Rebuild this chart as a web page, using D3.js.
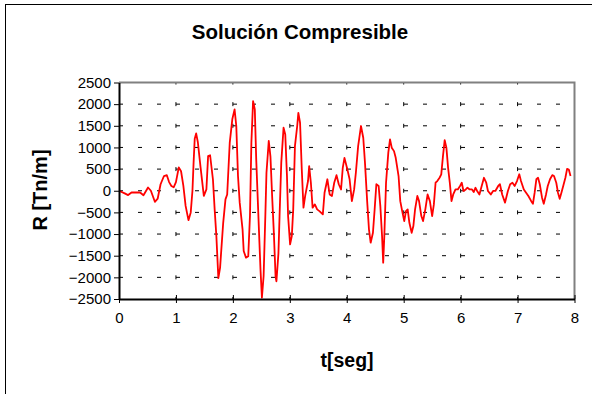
<!DOCTYPE html>
<html>
<head>
<meta charset="utf-8">
<script src="https://cdn.jsdelivr.net/npm/d3@7"></script>
<style>
  body { margin: 0; background: #fff; }
  svg { display: block; font-family: 'Liberation Sans', Arial, sans-serif; }
</style>
</head>
<body>
<svg id="chart"></svg>
<script>
// Time samples [s]
const time = [
  0.00, 0.10, 0.16, 0.22, 0.37, 0.43, 0.51, 0.56, 0.63, 0.68, 0.73, 0.79, 0.84, 0.88, 0.92, 0.96,
  1.00, 1.05, 1.09, 1.13, 1.17, 1.22, 1.26, 1.29, 1.31, 1.33, 1.355, 1.385, 1.43, 1.49, 1.535, 1.565,
  1.60, 1.65, 1.68, 1.71, 1.745, 1.775, 1.83, 1.87, 1.90, 1.945, 1.99, 2.03, 2.06, 2.09, 2.12, 2.17,
  2.19, 2.23, 2.27, 2.30, 2.325, 2.355, 2.385, 2.41, 2.455, 2.485, 2.51, 2.54, 2.57, 2.59, 2.63, 2.66,
  2.69, 2.72, 2.75, 2.765, 2.80, 2.82, 2.85, 2.89, 2.92, 2.95, 2.97, 3.005, 3.035, 3.06, 3.09, 3.13,
  3.15, 3.18, 3.21, 3.24, 3.27, 3.32, 3.34, 3.37, 3.40, 3.44, 3.48, 3.52, 3.58, 3.61, 3.66, 3.70,
  3.74, 3.78, 3.82, 3.86, 3.90, 3.93, 3.96, 4.01, 4.05, 4.09, 4.13, 4.16, 4.20, 4.25, 4.29, 4.32,
  4.36, 4.39, 4.42, 4.46, 4.49, 4.52, 4.56, 4.59, 4.62, 4.64, 4.66, 4.69, 4.73, 4.76, 4.79, 4.83,
  4.86, 4.91, 4.94, 4.98, 5.01, 5.04, 5.07, 5.10, 5.14, 5.17, 5.20, 5.24, 5.27, 5.31, 5.34, 5.38,
  5.42, 5.46, 5.50, 5.53, 5.56, 5.59, 5.63, 5.66, 5.69, 5.72, 5.75, 5.78, 5.81, 5.84, 5.87, 5.91,
  5.95, 5.99, 6.02, 6.05, 6.09, 6.12, 6.16, 6.20, 6.23, 6.26, 6.29, 6.33, 6.37, 6.41, 6.45, 6.48,
  6.53, 6.57, 6.61, 6.66, 6.69, 6.73, 6.78, 6.83, 6.87, 6.91, 6.95, 6.99, 7.03, 7.06, 7.11, 7.15,
  7.19, 7.24, 7.27, 7.30, 7.33, 7.36, 7.39, 7.43, 7.46, 7.50, 7.53, 7.57, 7.61, 7.64, 7.68, 7.71,
  7.74, 7.77, 7.81, 7.84, 7.87, 7.90, 7.93
]

// Force R [Tn/m] at each time sample
const force = [
  0, -60, -100, -40, -40, -105, 75, 0, -255, -180, 150, 340, 360, 200, 110, 80,
  200, 540, 450, 120, -350, -680, -500, 0, 650, 1200, 1325, 1120, 570, -120, 30, 800,
  820, 260, -430, -1045, -2020, -1780, -740, -200, -85, 1110, 1650, 1880, 1495, 340, -275, -890,
  -1390, -1545, -1510, -585, 1110, 2070, 1880, 725, -815, -1815, -2470, -1970, -585, 415, 1150, 790,
  -140, -985, -1985, -2090, -1450, -585, 650, 1455, 1300, 340, -585, -1240, -1045, -430, 1030, 1495,
  1800, 1570, 495, -390, -120, 225, 570, 185, -390, -315, -430, -470, -545, -45, 265, -85,
  -120, 185, 360, 150, 30, 530, 760, 495, 265, -240, 30, 415, 1030, 1495, 1225, 650,
  -275, -890, -1200, -970, -430, 150, 110, -355, -1045, -1660, -1045, 185, 880, 1185, 995, 915,
  760, 340, -240, -510, -700, -470, -430, -740, -970, -815, -430, -120, -240, -585, -700, -430,
  -85, -240, -585, -315, 185, 225, 300, 380, 800, 1170, 995, 530, 185, -240, -85, 30,
  30, 110, 185, -5, 30, 70, 30, 30, -30, 70, -5, -85, 110, 300, 185, -5,
  -85, -5, -5, 110, 150, -85, -275, -5, 150, 185, 110, 225, 380, 225, 30, -45,
  -120, -240, -300, -45, 265, 300, 150, -160, -300, -85, 110, 265, 360, 340, 185, -45,
  -185, -45, 150, 300, 505, 490, 340
]

const xTicks = [0, 1, 2, 3, 4, 5, 6, 7, 8]
const yTicks = [-2500, -2000, -1500, -1000, -500, 0, 500, 1000, 1500, 2000, 2500]

const chartTitle = 'Solución Compresible'
const xTitle = 't[seg]'
const yTitle = 'R [Tn/m]'

const width = 592
const height = 394
const plot = { left: 119, right: 574.5, top: 82.5, bottom: 299 }

const svg = d3.select('#chart')
  .attr('width', width)
  .attr('height', height)

// outer chart frame (right and bottom edges fall outside the picture)
svg.append('rect')
  .attr('x', 5.5)
  .attr('y', 4.5)
  .attr('width', 600)
  .attr('height', 400)
  .attr('fill', '#fff')
  .attr('stroke', '#000')

const x = d3.scaleLinear().domain([0, 8]).range([plot.left, plot.right])
const y = d3.scaleLinear().domain([-2500, 2500]).range([plot.bottom, plot.top])

// Dashed gridlines
svg.append('g')
  .selectAll('line')
  .data(yTicks.filter(v => v > -2500 && v < 2500))
  .enter()
  .append('line')
  .attr('x1', plot.left)
  .attr('x2', plot.right)
  .attr('y1', d => y(d))
  .attr('y2', d => y(d))
  .attr('stroke', '#000')
  .attr('stroke-dasharray', '4,15')

svg.append('g')
  .selectAll('line')
  .data(xTicks.filter(v => v > 0 && v < 8))
  .enter()
  .append('line')
  .attr('x1', d => x(d))
  .attr('x2', d => x(d))
  .attr('y1', plot.top)
  .attr('y2', plot.bottom)
  .attr('stroke', '#000')
  .attr('stroke-dasharray', '4,17.65')
  .attr('stroke-dashoffset', 2)

// top and right edges of the plot area
svg.append('path')
  .attr('d', `M${plot.left},${plot.top}H${plot.right}V${plot.bottom}`)
  .attr('fill', 'none')
  .attr('stroke', '#808080')
  .attr('stroke-width', 2)

// the curve
const line = d3.line()
  .x(d => x(d[0]))
  .y(d => y(d[1]))

svg.append('path')
  .datum(time.map((t, i) => [t, force[i]]))
  .attr('d', line)
  .attr('fill', 'none')
  .attr('stroke', '#ff0000')
  .attr('stroke-width', 1.8)
  .attr('stroke-linejoin', 'round')

// Axes
const yAxis = svg.append('g')
  .attr('transform', `translate(${plot.left},0)`)
  .call(d3.axisLeft(y).tickValues(yTicks).tickFormat(d3.format('d'))
    .tickSize(5).tickSizeOuter(0).tickPadding(3))

const xAxis = svg.append('g')
  .attr('transform', `translate(0,${plot.bottom})`)
  .call(d3.axisBottom(x).tickValues(xTicks).tickFormat(d3.format('d'))
    .tickSize(4).tickSizeOuter(0).tickPadding(9))

xAxis.selectAll('.tick line').attr('y1', -4)

for (const axis of [yAxis, xAxis]) {
  axis.select('.domain').attr('stroke', '#000').attr('stroke-width', 2)
  axis.selectAll('.tick line').attr('stroke', '#000')
  axis.selectAll('.tick text')
    .attr('fill', '#000')
    .style('font-size', '15px')
    .style('font-family', "'Liberation Sans', Arial, sans-serif")
}

// Titles
svg.append('text')
  .attr('x', 300)
  .attr('y', 39)
  .attr('text-anchor', 'middle')
  .style('font-size', '20.5px')
  .style('font-weight', 'bold')
  .text(chartTitle)

svg.append('text')
  .attr('x', 347)
  .attr('y', 367)
  .attr('text-anchor', 'middle')
  .style('font-size', '19.5px')
  .style('font-weight', 'bold')
  .text(xTitle)

svg.append('text')
  .attr('transform', 'translate(47,190) rotate(-90)')
  .attr('text-anchor', 'middle')
  .style('font-size', '20px')
  .style('font-weight', 'bold')
  .text(yTitle)
</script>
</body>
</html>
